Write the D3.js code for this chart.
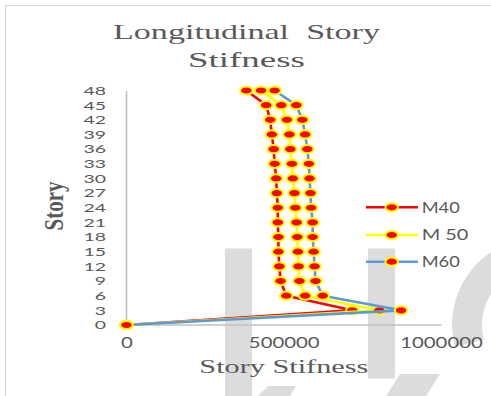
<!DOCTYPE html>
<html>
<head>
<meta charset="utf-8">
<script src="https://cdn.jsdelivr.net/npm/d3@7"></script>
<style>
  html, body { margin: 0; padding: 0; background: #fff; }
  svg { display: block; }
</style>
</head>
<body>
<svg id="chart" width="491" height="396"></svg>
<script>
// ---- data ----
const stories = [0, 3, 6, 9, 12, 15, 18, 21, 24, 27, 30, 33, 36, 39, 42, 45, 48];
const m40 = [0, 718000, 508000, 490000, 486000, 483000, 483000, 481000, 481000, 478000, 476000, 471000, 468000, 462000, 457000, 444000, 381000];
const m50 = [0, 804000, 568000, 550000, 547000, 545000, 543000, 541000, 537000, 534000, 529000, 526000, 521000, 518000, 510000, 492000, 428000];
const m60 = [0, 873000, 624000, 601000, 598000, 595000, 592000, 592000, 587000, 585000, 582000, 580000, 575000, 568000, 559000, 540000, 471000];
const seriesNames = ["M40", "M 50", "M60"];
const seriesColors = ["#FF0000", "#FFFF00", "#5B9BD5"];
const xTicks = [0, 500000, 1000000];
const yTicks = stories;
const titleLines = ["Longitudinal  Story", "Stifness"];
const xTitle = "Story Stifness";
const yTitle = "Story";

const series = [m40, m50, m60].map((vals, i) => ({
  name: seriesNames[i], color: seriesColors[i],
  points: vals.map((v, j) => ({ x: v, y: stories[j] }))
}));

const svg = d3.select("#chart");
const grey = "#595959";

// background frame
svg.append("rect").attr("x", 5.5).attr("y", 5.5).attr("width", 520).attr("height", 420)
  .attr("fill", "#fff").attr("stroke", "#d9d9d9").attr("stroke-width", 1.2);

// faint watermark shapes in background
const wm = svg.append("g").attr("fill", "#dcdcdc");
wm.append("rect").attr("x", 225).attr("y", 248.5).attr("width", 27).attr("height", 150);
wm.append("rect").attr("x", 368).attr("y", 248.5).attr("width", 27).attr("height", 130);
wm.append("polygon").attr("points", "386,396 400,374 440,374 426,396");
wm.append("polygon").attr("points", "258,396 268,386 296,386 290,396");
const arc = d3.arc().innerRadius(58).outerRadius(88).startAngle(-Math.PI * 0.58).endAngle(-Math.PI * 0.05);
wm.append("path").attr("d", arc()).attr("transform", "translate(540,325)");

// scales
const x = d3.scaleLinear().domain([0, 1000000]).range([126.5, 441]);
const y = d3.scaleLinear().domain([0, 48]).range([325, 90.5]);

// axes
const xAxis = svg.append("g").attr("transform", "translate(0,324.5)")
  .call(d3.axisBottom(x).tickValues(xTicks).tickFormat(d3.format("d")).tickSize(0).tickPadding(13));
xAxis.select(".domain").attr("stroke", "#c0c0c0").attr("stroke-width", 1.6);
xAxis.selectAll("text").attr("fill", grey).attr("font-family", "Lato, 'Open Sans', sans-serif")
  .attr("font-size", 15)
  .attr("textLength", function() { return this.textContent.length * 11.8; })
  .attr("lengthAdjust", "spacingAndGlyphs");

const yAxis = svg.append("g").attr("transform", "translate(126,0)")
  .call(d3.axisLeft(y).tickValues(yTicks).tickFormat(d3.format("d")).tickSize(0).tickPadding(20));
yAxis.select(".domain").attr("stroke", "#c0c0c0").attr("stroke-width", 1.6);
yAxis.selectAll("text").attr("fill", grey).attr("font-family", "Lato, 'Open Sans', sans-serif")
  .attr("font-size", 12)
  .attr("textLength", function() { return this.textContent.length * 11.3; })
  .attr("lengthAdjust", "spacingAndGlyphs");

// series
const line = d3.line().x(d => x(d.x)).y(d => y(d.y));
series.forEach(s => {
  const g = svg.append("g");
  g.append("path").attr("d", line(s.points)).attr("fill", "none")
    .attr("stroke", s.color).attr("stroke-width", 2.6).attr("stroke-linejoin", "round");
  g.selectAll("ellipse").data(s.points).join("ellipse")
    .attr("cx", d => x(d.x)).attr("cy", d => y(d.y))
    .attr("rx", 6.3).attr("ry", 4.1)
    .attr("fill", "#FF0000").attr("stroke", "#FFFF00").attr("stroke-width", 2);
});

// legend
const legendY = [207.3, 235, 261.7];
const legW = [38, 46.7, 38];
series.forEach((s, i) => {
  const g = svg.append("g").attr("transform", `translate(0,${legendY[i]})`);
  g.append("line").attr("x1", 366).attr("x2", 418).attr("y1", 0).attr("y2", 0)
    .attr("stroke", s.color).attr("stroke-width", 2.6);
  g.append("ellipse").attr("cx", 391.7).attr("cy", 0).attr("rx", 6.3).attr("ry", 4.1)
    .attr("fill", "#FF0000").attr("stroke", "#FFFF00").attr("stroke-width", 2);
  g.append("text").attr("x", 421.7).attr("y", 5.3).text(s.name)
    .attr("fill", grey).attr("font-family", "Lato, 'Open Sans', sans-serif").attr("font-size", 15)
    .attr("textLength", legW[i]).attr("lengthAdjust", "spacingAndGlyphs")
    .style("white-space", "pre");
});

// titles
const serif = "'Liberation Serif', 'DejaVu Serif', serif";
const titleW = [267, 117];
const titleY = [39, 67];
titleLines.forEach((t, i) => {
  svg.append("text").attr("x", 246.5).attr("y", titleY[i]).attr("text-anchor", "middle")
    .attr("fill", grey).attr("font-family", serif).attr("font-size", 21)
    .attr("textLength", titleW[i]).attr("lengthAdjust", "spacingAndGlyphs")
    .style("white-space", "pre").text(t);
});

svg.append("text").attr("x", 283.8).attr("y", 373.3).attr("text-anchor", "middle")
  .attr("fill", grey).attr("font-family", serif).attr("font-size", 18)
  .attr("textLength", 169).attr("lengthAdjust", "spacingAndGlyphs").text(xTitle);

svg.append("text").attr("transform", "translate(63,206) scale(1.35,1) rotate(-90)")
  .attr("text-anchor", "middle").attr("fill", grey).attr("font-family", serif)
  .attr("font-weight", "bold").attr("font-size", 21).text(yTitle);
</script>
</body>
</html>
